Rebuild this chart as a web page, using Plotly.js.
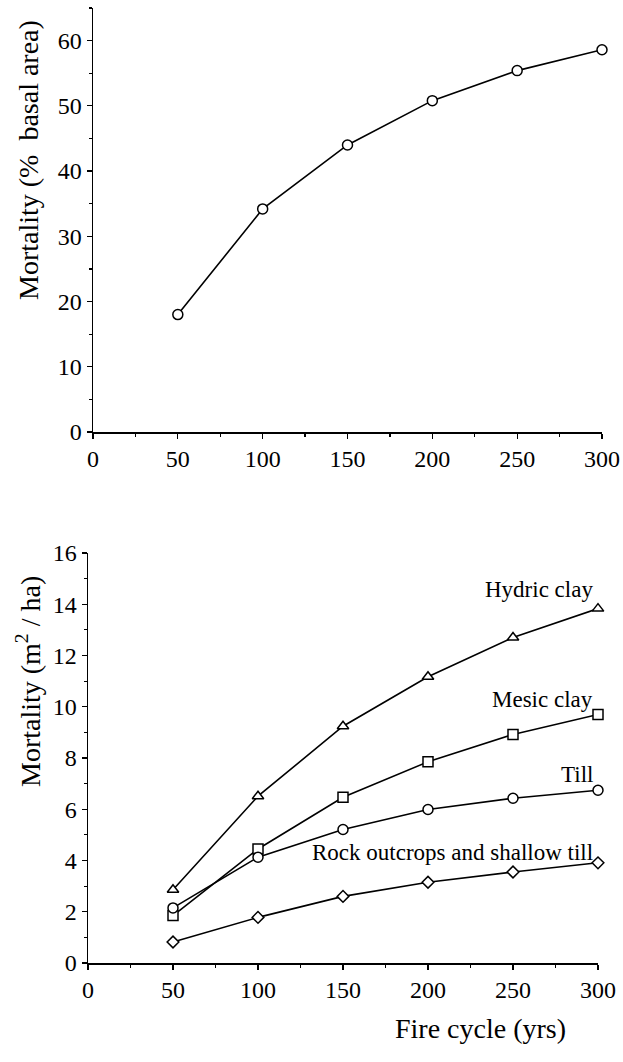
<!DOCTYPE html>
<html>
<head>
<meta charset="utf-8">
<script src="https://cdn.plot.ly/plotly-3.0.1.min.js"></script>
<style>html,body{margin:0;padding:0;background:#fff;}#chart{width:623px;height:1062px;}</style>
</head>
<body>
<div id="chart"></div>
<script>
const fireCycle = [50, 100, 150, 200, 250, 300];
const mortalityPct = [18, 34.2, 44.0, 50.8, 55.4, 58.6];
const hydricClay = [2.86, 6.51, 9.24, 11.17, 12.70, 13.83];
const mesicClay = [1.85, 4.45, 6.47, 7.85, 8.92, 9.70];
const till = [2.15, 4.13, 5.21, 5.99, 6.43, 6.74];
const rockShallowTill = [0.82, 1.78, 2.60, 3.15, 3.55, 3.91];
const seriesNames = ["Hydric clay", "Mesic clay", "Till", "Rock outcrops and shallow till"];
const labelY = [14.58, 10.29, 7.36, 4.31];

const FONT = "'Liberation Serif', 'Times New Roman', serif";
const lineStyle = {color: "black", width: 1.6};
function mk(sym, size) {
  return {symbol: sym, size: size, color: "white", line: {color: "black", width: 1.5}};
}

const traces = [
  {x: fireCycle, y: mortalityPct, xaxis: "x", yaxis: "y", mode: "lines+markers",
   line: lineStyle, marker: mk("circle", 10), cliponaxis: false},
  {x: fireCycle, y: hydricClay, xaxis: "x2", yaxis: "y2", mode: "lines+markers",
   line: lineStyle, marker: mk("triangle-up", 10), cliponaxis: false},
  {x: fireCycle, y: mesicClay, xaxis: "x2", yaxis: "y2", mode: "lines+markers",
   line: lineStyle, marker: mk("square", 10), cliponaxis: false},
  {x: fireCycle, y: till, xaxis: "x2", yaxis: "y2", mode: "lines+markers",
   line: lineStyle, marker: mk("circle", 10), cliponaxis: false},
  {x: fireCycle, y: rockShallowTill, xaxis: "x2", yaxis: "y2", mode: "lines+markers",
   line: lineStyle, marker: mk("diamond", 9), cliponaxis: false}
];

function axisBase(extra) {
  return Object.assign({
    showline: true, linecolor: "black", linewidth: 1.5,
    showgrid: false, zeroline: false,
    ticks: "outside", ticklen: 5, tickwidth: 1.2, tickcolor: "black",
    tickfont: {family: FONT, size: 24, color: "black"},
    fixedrange: true
  }, extra);
}

const W = 623, H = 1062;
const layout = {
  width: W, height: H,
  margin: {l: 0, r: 0, t: 0, b: 0},
  paper_bgcolor: "white", plot_bgcolor: "white",
  showlegend: false,
  font: {family: FONT, color: "black"},
  xaxis: axisBase({domain: [93 / W, 602 / W], range: [0, 300], tickvals: [0, 50, 100, 150, 200, 250, 300],
    anchor: "y", minor: {dtick: 25, ticklen: 3, ticks: "outside", tickcolor: "black"}}),
  yaxis: axisBase({domain: [(H - 432) / H, (H - 8) / H], range: [0, 65], tickvals: [0, 10, 20, 30, 40, 50, 60],
    anchor: "x", minor: {dtick: 5, ticklen: 3, ticks: "outside", tickcolor: "black"}}),
  xaxis2: axisBase({domain: [88 / W, 598 / W], range: [0, 300], tickvals: [0, 50, 100, 150, 200, 250, 300],
    anchor: "y2", minor: {dtick: 25, ticklen: 3, ticks: "outside", tickcolor: "black"}}),
  yaxis2: axisBase({domain: [(H - 963) / H, (H - 553) / H], range: [0, 16], tickvals: [0, 2, 4, 6, 8, 10, 12, 14, 16],
    anchor: "x2", minor: {dtick: 1, ticklen: 3, ticks: "outside", tickcolor: "black"}}),
  annotations: [
    {text: "Mortality (%  basal area)", xref: "paper", yref: "paper", x: 28 / W, y: (H - 160) / H,
     textangle: -90, showarrow: false, xanchor: "center", yanchor: "middle",
     font: {family: FONT, size: 28, color: "black"}},
    {text: "Mortality (m<sup>2</sup> / ha)", xref: "paper", yref: "paper", x: 28 / W, y: (H - 682) / H,
     textangle: -90, showarrow: false, xanchor: "center", yanchor: "middle",
     font: {family: FONT, size: 28, color: "black"}},
    {text: "Fire cycle (yrs)", xref: "paper", yref: "paper", x: 480 / W, y: (H - 1028) / H,
     showarrow: false, xanchor: "center", yanchor: "middle",
     font: {family: FONT, size: 28, color: "black"}}
  ].concat(seriesNames.map((n, i) => ({
    text: n, xref: "x2", yref: "y2", x: 298, y: labelY[i], showarrow: false,
    xanchor: "right", yanchor: "middle", font: {family: FONT, size: 23, color: "black"}
  })))
};

Plotly.newPlot("chart", traces, layout, {staticPlot: true, displayModeBar: false});
</script>
</body>
</html>
